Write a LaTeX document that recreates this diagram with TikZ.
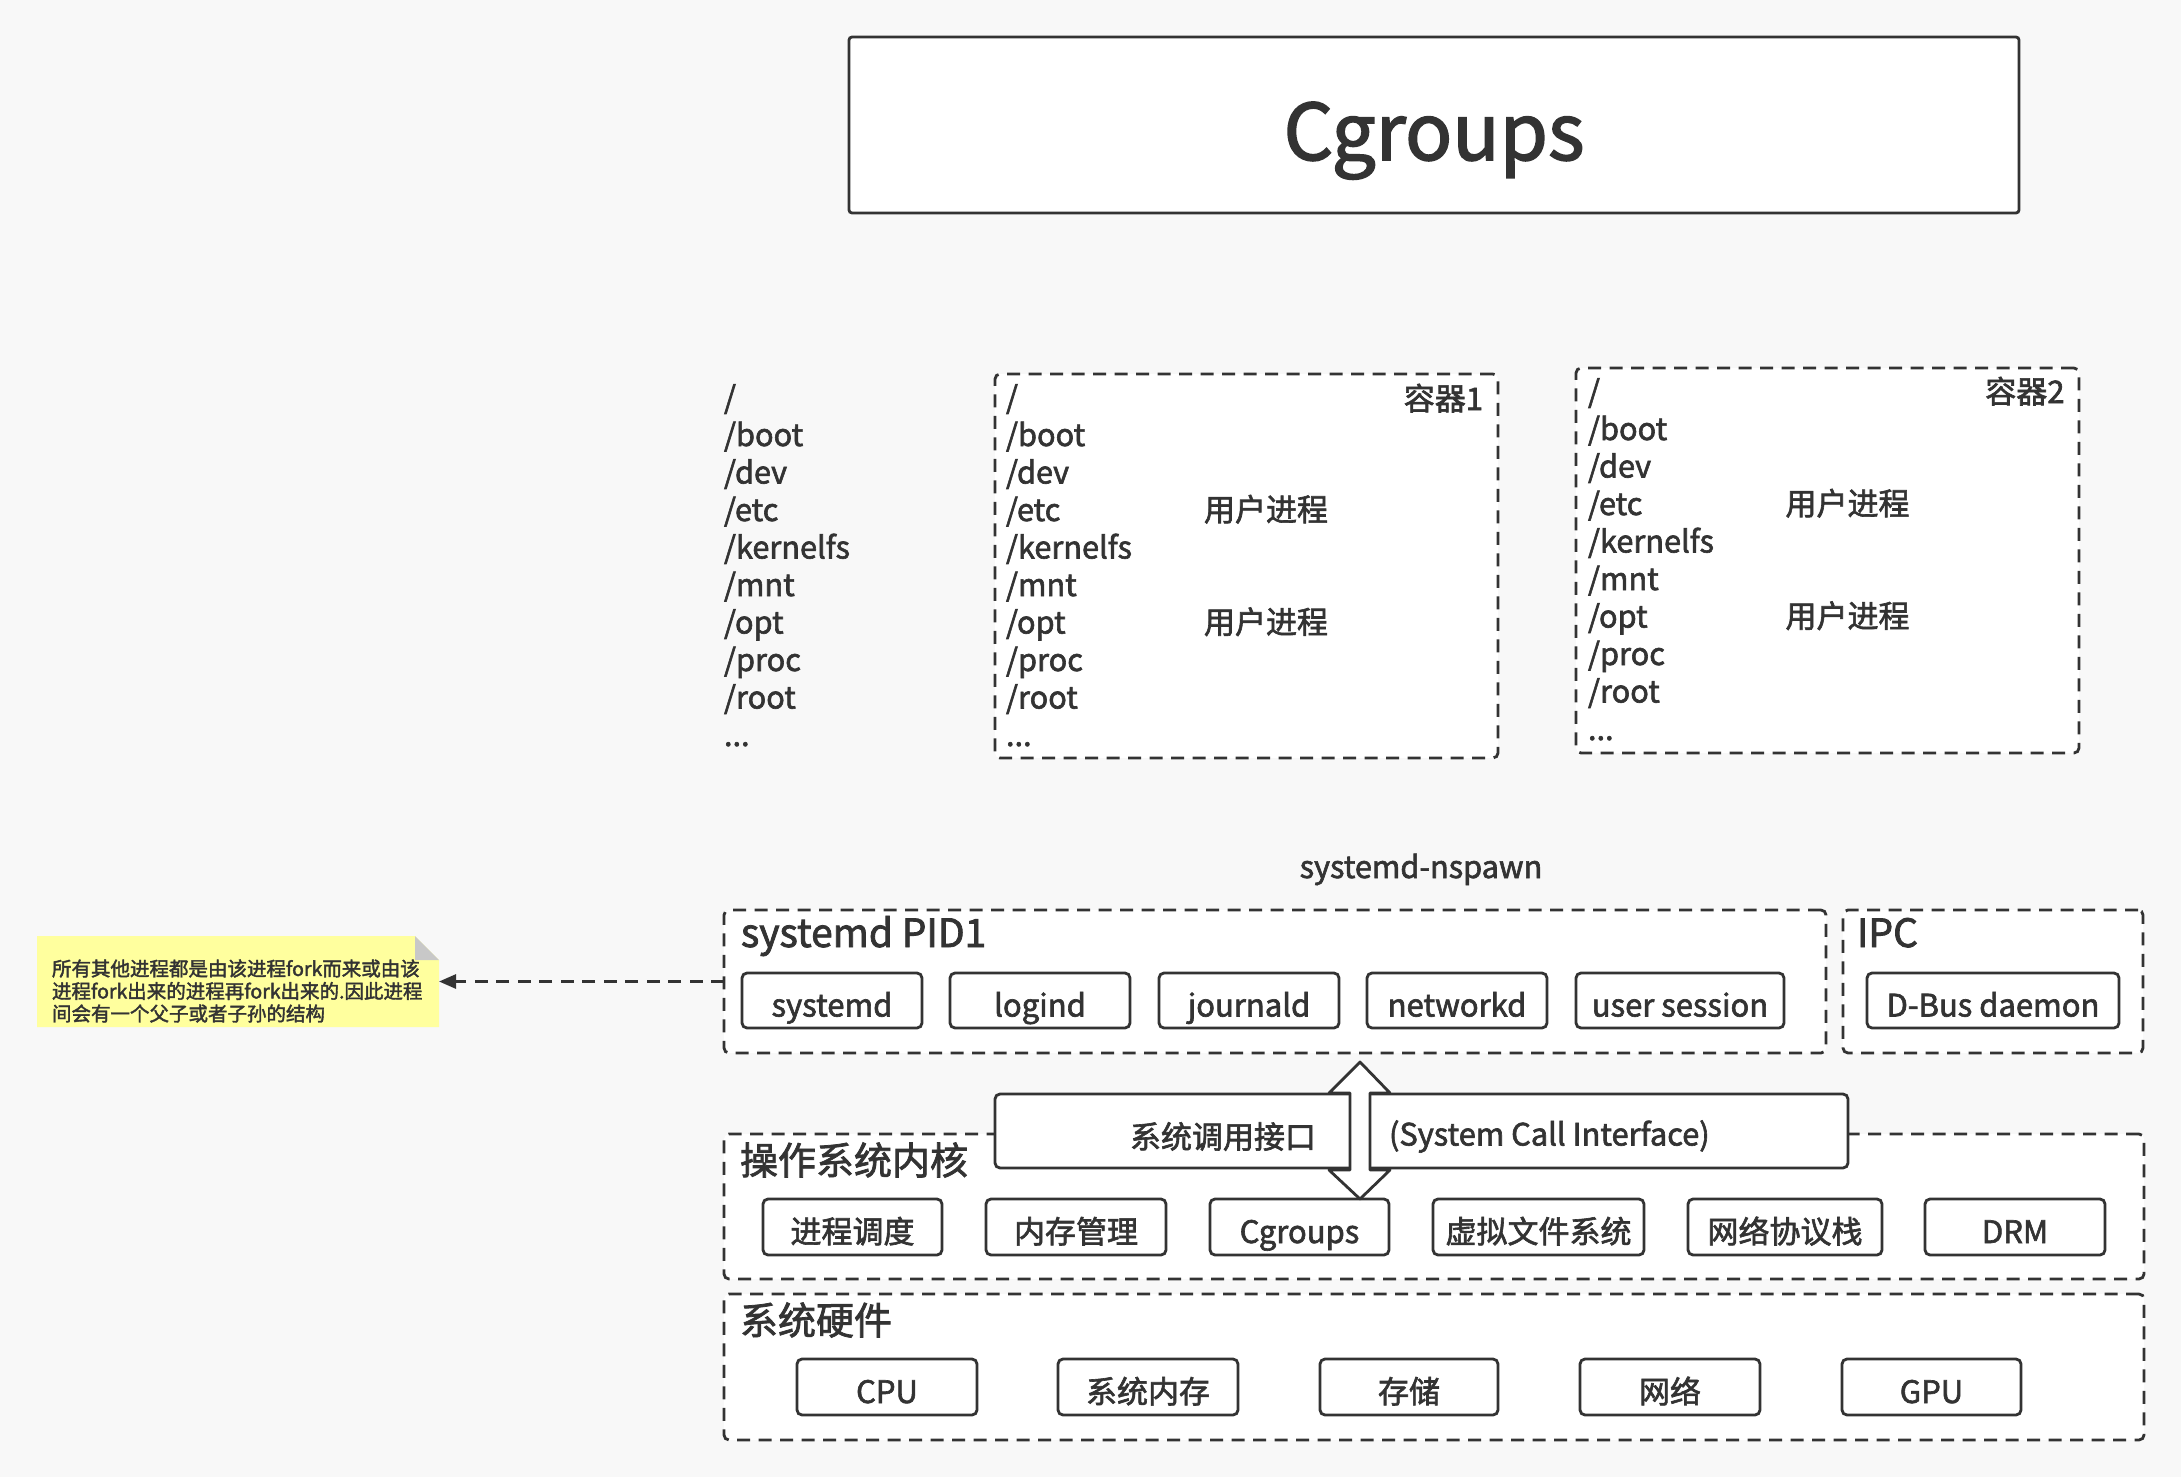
\documentclass[tikz,border=0pt]{standalone}
\usepackage{fontspec}
\setmainfont{Noto Sans CJK SC}[FakeBold=2]
\usetikzlibrary{arrows.meta}
\definecolor{ink}{HTML}{333333}
\definecolor{bg}{HTML}{F8F8F8}
\definecolor{notey}{HTML}{FFFF9E}
\definecolor{fold}{HTML}{C8C8C8}
\newcommand\fsz[1]{\fontsize{#1}{#1}\selectfont}
\begin{document}
\begin{tikzpicture}[x=1pt,y=-1pt,
  every node/.style={text=ink, inner sep=0pt, outer sep=0pt},
  sbox/.style={draw=ink, line width=2.8pt, rounded corners=5pt, fill=white},
  dbox/.style={draw=ink, line width=2.8pt, dash pattern=on 13pt off 8.5pt, rounded corners=5pt, fill=white},
  itemb/.style={sbox, minimum height=56pt},
  itl/.style={anchor=base, font=\fsz{31}},
  itc/.style={anchor=base, font=\fsz{31}},
  lbl/.style={anchor=base west, font=\fsz{39}},
  lblc/.style={anchor=west, font=\fsz{38}},
  lst/.style={anchor=base west, font=\fsz{30.7}},
  lstc/.style={anchor=base west, font=\fsz{31}},
]
\useasboundingbox[fill=bg] (0,0) rectangle (2181,1477);

% title
\node[sbox, rounded corners=3pt, minimum width=1170pt, minimum height=176pt] (title) at (1434,125) {};
\node[anchor=base, font=\fsz{78}] (titlet) at (1434,160) {Cgroups};

% host file system list
\foreach \t [count=\i from 0] in {/,/boot,/dev,/etc,/kernelfs,/mnt,/opt,/proc,/root}
  \node[lst] (h\i) at (724,408.5+37.5*\i) {\t};
\node[lst] (h9) at (724,746) {...};

% container 1
\node[dbox, minimum width=503pt, minimum height=384pt] (c1) at (1246.5,566) {};
\foreach \t [count=\i from 0] in {/,/boot,/dev,/etc,/kernelfs,/mnt,/opt,/proc,/root}
  \node[lst] (a\i) at (1006,408.5+37.5*\i) {\t};
\node[lst] (a9) at (1006,746) {...};
\node[anchor=base east, font=\fsz{31}] (c1t) at (1483,410) {容器1};
\node[lstc] (c1u1) at (1204,521) {用户进程};
\node[lstc] (c1u2) at (1204,633.5) {用户进程};

% container 2
\node[dbox, minimum width=503pt, minimum height=385pt] (c2) at (1827.5,560.5) {};
\foreach \t [count=\i from 0] in {/,/boot,/dev,/etc,/kernelfs,/mnt,/opt,/proc,/root}
  \node[lst] (b\i) at (1588,402.5+37.5*\i) {\t};
\node[lst] (b9) at (1588,740) {...};
\node[anchor=base east, font=\fsz{31}] (c2t) at (2064.5,403) {容器2};
\node[lstc] (c2u1) at (1785.5,515) {用户进程};
\node[lstc] (c2u2) at (1785.5,627.5) {用户进程};

% systemd-nspawn
\node[anchor=base, font=\fsz{30.7}] (nspawn) at (1421,878) {systemd-nspawn};

% systemd PID1 group
\node[dbox, minimum width=1102pt, minimum height=143pt] (sysd) at (1275,981.5) {};
\node[lbl] (sysdt) at (741,947) {systemd PID1};
\node[itemb, minimum width=180pt, minimum height=55pt] (s1) at (832,1000.5) {};
\node[itl] at (s1.south |- 0,1016.5) {systemd};
\node[itemb, minimum width=180pt, minimum height=55pt] (s2) at (1040,1000.5) {};
\node[itl] at (s2.south |- 0,1016.5) {logind};
\node[itemb, minimum width=180pt, minimum height=55pt] (s3) at (1249,1000.5) {};
\node[itl] at (s3.south |- 0,1016.5) {journald};
\node[itemb, minimum width=180pt, minimum height=55pt] (s4) at (1457,1000.5) {};
\node[itl] at (s4.south |- 0,1016.5) {networkd};
\node[itemb, minimum width=208pt, minimum height=55pt] (s5) at (1680,1000.5) {};
\node[itl] at (s5.south |- 0,1016.5) {user session};

% IPC group
\node[dbox, minimum width=300pt, minimum height=143pt] (ipc) at (1993,981.5) {};
\node[lbl] (ipct) at (1857,947) {IPC};
\node[itemb, minimum width=252pt, minimum height=55pt] (dbus) at (1993,1000.5) {};
\node[itl] at (dbus.south |- 0,1016.5) {D-Bus daemon};

% kernel group
\node[dbox, minimum width=1420pt, minimum height=145pt] (kern) at (1434,1206.5) {};
\node[lblc] (kernt) at (740,1160) {操作系统内核};
\node[itemb, minimum width=179pt] (k1) at (852.5,1227) {};
\node[itc] at (k1.south |- 0,1243) {进程调度};
\node[itemb, minimum width=180pt] (k2) at (1076,1227) {};
\node[itc] at (k2.south |- 0,1243) {内存管理};
\node[itemb, minimum width=179pt] (k3) at (1299.5,1227) {};
\node[itl] at (k3.south |- 0,1243) {Cgroups};
\node[itemb, minimum width=211pt] (k4) at (1538.5,1227) {};
\node[itc] at (k4.south |- 0,1243) {虚拟文件系统};
\node[itemb, minimum width=194pt] (k5) at (1785,1227) {};
\node[itc] at (k5.south |- 0,1243) {网络协议栈};
\node[itemb, minimum width=180pt] (k6) at (2015,1227) {};
\node[itl] at (k6.south |- 0,1243) {DRM};

% hardware group
\node[dbox, minimum width=1420pt, minimum height=146pt] (hw) at (1434,1367) {};
\node[lblc] (hwt) at (740,1320) {系统硬件};
\node[itemb, minimum width=180pt] (w1) at (887,1387) {};
\node[itl] at (w1.south |- 0,1403) {CPU};
\node[itemb, minimum width=180pt] (w2) at (1148,1387) {};
\node[itc] at (w2.south |- 0,1403) {系统内存};
\node[itemb, minimum width=178pt] (w3) at (1409,1387) {};
\node[itc] at (w3.south |- 0,1403) {存储};
\node[itemb, minimum width=180pt] (w4) at (1670,1387) {};
\node[itc] at (w4.south |- 0,1403) {网络};
\node[itemb, minimum width=179pt] (w5) at (1931.5,1387) {};
\node[itl] at (w5.south |- 0,1403) {GPU};

% system call interface
\node[sbox, minimum width=853pt, minimum height=74pt] (sci) at (1421.5,1131) {};
\node[anchor=east, font=\fsz{31}] (scic) at (1316,1136.5) {系统调用接口};
\node[anchor=west, font=\fsz{30.8}] (scie) at (1389,1136.5) {(System Call Interface)};
\coordinate (atop) at (1360,1062);
\coordinate (abot) at (1360,1199);
\draw[ink, line width=2.8pt, fill=white, line join=round]
  (atop) -- ++(30,31) -- ++(-20,0) -- ++(0,77) -- ++(20,0) -- (abot)
  -- ++(-31,-29) -- ++(21,0) -- ++(0,-77) -- ++(-21,0) -- cycle;

% note
\node[minimum width=402pt, minimum height=91pt] (note) at (238,981.5) {};
\fill[notey] (note.south west) -- (note.north west) -- ([xshift=-24pt]note.north east)
  -- ([yshift=-24pt]note.north east) -- (note.south east) -- cycle;
\fill[fold] ([xshift=-24pt]note.north east) -- ([xshift=-24pt,yshift=-24pt]note.north east)
  -- ([yshift=-24pt]note.north east) -- cycle;
\node[anchor=west, align=left, font=\fontsize{19.5}{22.5}\selectfont] (notet) at (52,991)
  {所有其他进程都是由该进程fork而来或由该\\进程fork出来的进程再fork出来的.因此进程\\间会有一个父子或者子孙的结构};
\draw[ink, line width=2.8pt, dash pattern=on 13pt off 8.5pt, -{Triangle[length=17pt,width=14pt]}]
  (sysd.west) -- (note.east);
\end{tikzpicture}
\end{document}
